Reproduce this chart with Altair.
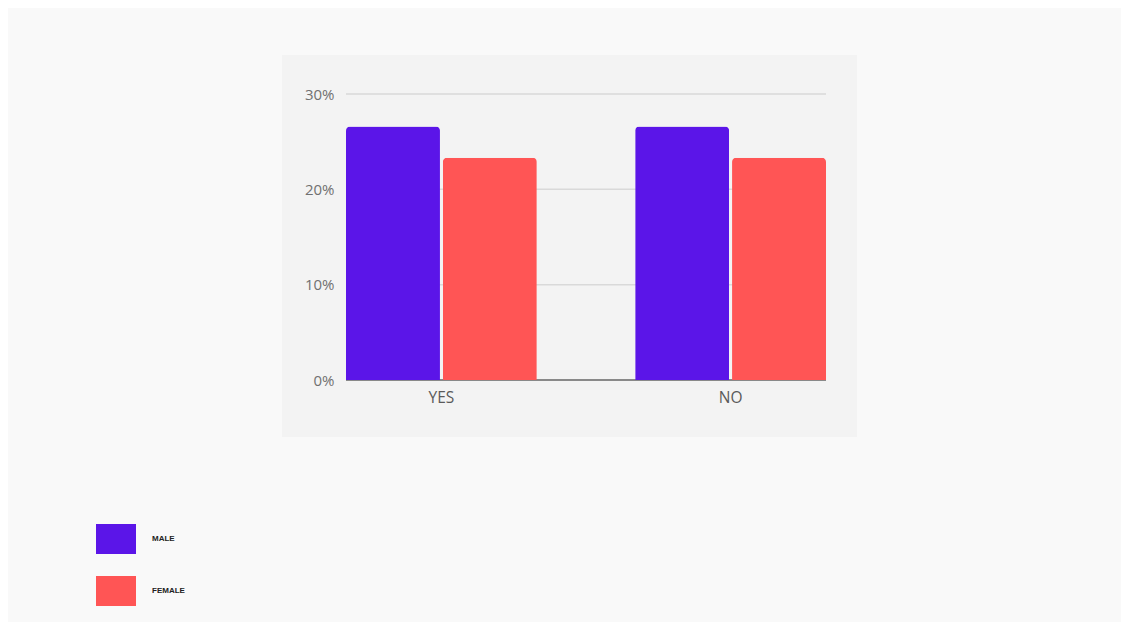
import altair as alt
import pandas as pd

categories = ["YES", "NO"]
genders = ["MALE", "FEMALE"]
male_pct = [26.6, 26.6]
female_pct = [23.3, 23.3]
colors = ["#5b15e8", "#ff5555"]
y_ticks = [0, 0.1, 0.2, 0.3]

rows = []
for i, c in enumerate(categories):
    rows.append({"answer": c, "gender": "MALE", "share": male_pct[i] / 100})
    rows.append({"answer": c, "gender": "FEMALE", "share": female_pct[i] / 100})
df = pd.DataFrame(rows)
grid_df = pd.DataFrame({"v": y_ticks})

panel = alt.Chart(pd.DataFrame({"p": [0]})).mark_rect(color="#f3f3f3").encode(
    x=alt.value(-64), x2=alt.value(511), y=alt.value(-39), y2=alt.value(343)
)

grid = alt.Chart(grid_df).mark_rule(strokeWidth=1.5).encode(
    y=alt.Y("v:Q"),
    color=alt.condition("datum.v == 0", alt.value("#666666"), alt.value("#d9d9d9")),
)

bars = alt.Chart(df).mark_bar(cornerRadiusTopLeft=4, cornerRadiusTopRight=4).encode(
    x=alt.X("answer:N", sort=categories, title=None,
            scale=alt.Scale(paddingInner=0.34, paddingOuter=0),
            axis=alt.Axis(labelAngle=0, ticks=False, domain=False, zindex=1,
                          labelFont="Open Sans", labelFontSize=15.5,
                          labelColor="#5a5a5a", labelPadding=10, grid=False)),
    xOffset=alt.XOffset("gender:N", sort=genders, scale=alt.Scale(paddingInner=0.03)),
    y=alt.Y("share:Q", title=None, scale=alt.Scale(domain=[0, 0.3], nice=False),
            axis=alt.Axis(format=".0%", values=y_ticks, ticks=False, domain=False, zindex=1,
                          labelFont="Open Sans", labelFontSize=15, labelColor="#707070",
                          labelPadding=12, grid=False)),
    color=alt.Color("gender:N", sort=genders,
                    scale=alt.Scale(domain=genders, range=colors),
                    legend=alt.Legend(title=None, orient="none", legendX=-250, legendY=425,
                                      symbolType="M-1,-0.75H1V0.75H-1Z", symbolSize=1600,
                                      symbolStrokeWidth=0, symbolOpacity=1,
                                      labelFont="Liberation Sans", labelFontSize=8,
                                      labelFontWeight="bold", labelColor="#222222",
                                      labelOffset=16, rowPadding=17)),
)

chart = alt.layer(panel, grid, bars).properties(
    width=480, height=286,
    padding={"left": 338, "top": 86, "right": 295, "bottom": 242},
    autosize="none",
    background="#f9f9f9",
).configure_view(stroke=None)

chart.save("out.html", embed_options={"renderer": "svg", "actions": False})
